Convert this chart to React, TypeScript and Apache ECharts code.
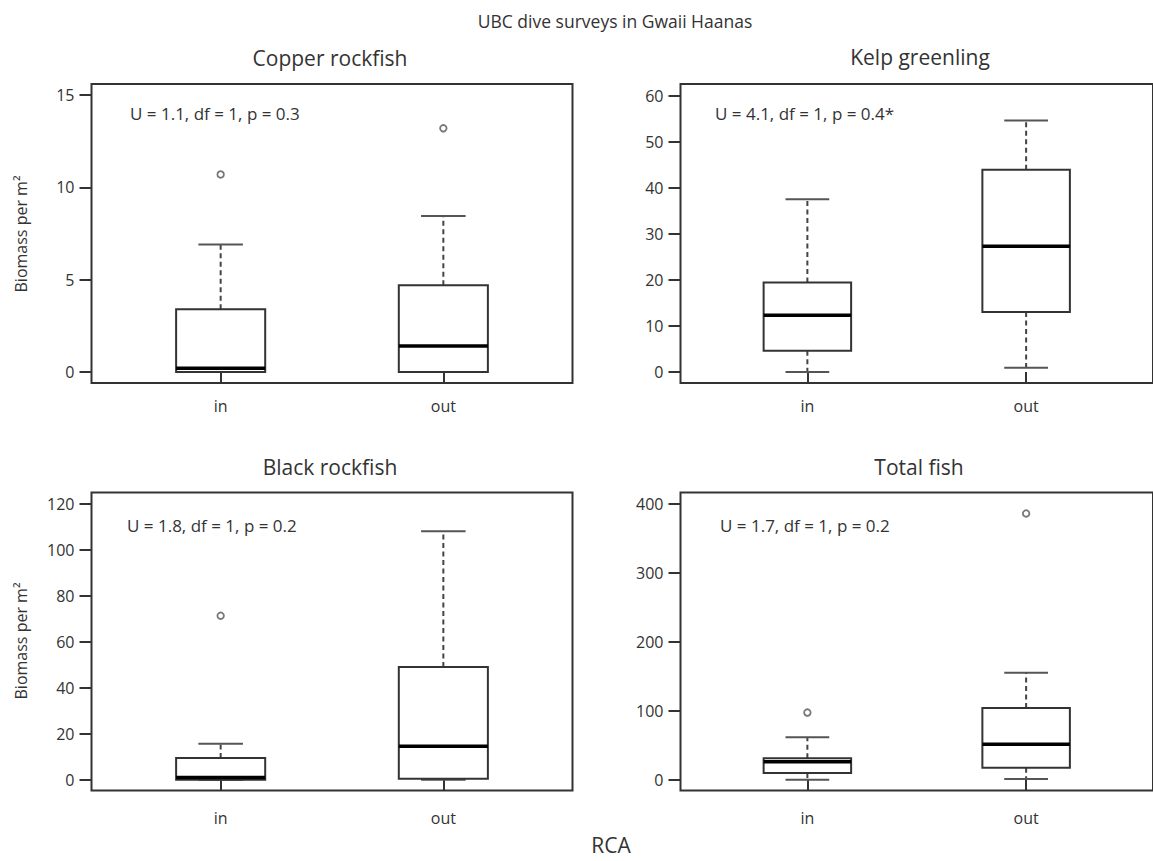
import React, { useEffect, useRef } from "react";
import * as echarts from "echarts";

// ---------- data ----------
const groups = ["in", "out"];
const groupPos = [1, 2];

const chartTitle = "UBC dive surveys in Gwaii Haanas";
const xAxisTitle = "RCA";
const yAxisTitle = "Biomass per m²";

const panelTitles = ["Copper rockfish", "Kelp greenling", "Black rockfish", "Total fish"];
const statTexts = [
  "U = 1.1, df = 1, p = 0.3",
  "U = 4.1, df = 1, p = 0.4*",
  "U = 1.8, df = 1, p = 0.2",
  "U = 1.7, df = 1, p = 0.2",
];

// [lower whisker, Q1, median, Q3, upper whisker] for "in", "out"
const copperBoxes = [
  [0, 0, 0.2, 3.4, 6.9],
  [0, 0, 1.4, 4.7, 8.45],
];
const kelpBoxes = [
  [0, 4.6, 12.3, 19.4, 37.5],
  [0.9, 13.0, 27.3, 43.9, 54.6],
];
const blackBoxes = [
  [0, 0, 1.0, 9.4, 15.6],
  [0, 0.4, 14.5, 49.0, 108.0],
];
const totalBoxes = [
  [0, 9.7, 26, 31.4, 61.8],
  [1, 17.4, 51.7, 103.9, 155],
];

// outliers: [group position, value]
const copperOutliers = [[1, 10.7], [2, 13.2]];
const kelpOutliers: number[][] = [];
const blackOutliers = [[1, 71.3]];
const totalOutliers = [[1, 97.5], [2, 386]];

const copperTicks = [0, 5, 10, 15];
const kelpTicks = [0, 10, 20, 30, 40, 50, 60];
const blackTicks = [0, 20, 40, 60, 80, 100, 120];
const totalTicks = [0, 100, 200, 300, 400];

const copperRange = [-0.6, 15.6];
const kelpRange = [-2.4, 62.5];
const blackRange = [-4.7, 124.9];
const totalRange = [-15.5, 416.4];

const xRange = [0.42, 2.58];

// ---------- layout ----------
const FONT = "'Open Sans', 'Noto Sans', sans-serif";
const TXT = "#333333";

const grids = [
  { left: 91.5, top: 84, width: 481, height: 299 },
  { left: 680.5, top: 84, width: 481, height: 299 },
  { left: 91.5, top: 492.5, width: 481, height: 298 },
  { left: 680.5, top: 492.5, width: 481, height: 298 },
];
const titlePos = [
  [330, 58],
  [920, 57],
  [330, 467],
  [919, 467],
];
const statPos = [
  [130, 113],
  [715, 113],
  [127, 525.5],
  [720, 525.5],
];
const xLabelMargin = [15, 15, 19, 19];

const panels = [
  { boxes: copperBoxes, outliers: copperOutliers, ticks: copperTicks, range: copperRange },
  { boxes: kelpBoxes, outliers: kelpOutliers, ticks: kelpTicks, range: kelpRange },
  { boxes: blackBoxes, outliers: blackOutliers, ticks: blackTicks, range: blackRange },
  { boxes: totalBoxes, outliers: totalOutliers, ticks: totalTicks, range: totalRange },
];

const BOX_HALF = 0.2;
const CAP_HALF = 0.1;

function renderBox(params: any, api: any) {
  const x = api.value(0);
  const low = api.value(1);
  const q1 = api.value(2);
  const med = api.value(3);
  const q3 = api.value(4);
  const high = api.value(5);
  const c = (xv: number, yv: number) => api.coord([xv, yv]);
  const [xc, yLow] = c(x, low);
  const [, yHigh] = c(x, high);
  const [xl, yQ1] = c(x - BOX_HALF, q1);
  const [xr, yQ3] = c(x + BOX_HALF, q3);
  const [, yMed] = c(x, med);
  const [cl] = c(x - CAP_HALF, 0);
  const [cr] = c(x + CAP_HALF, 0);
  const whiskerStyle = { stroke: "#444", lineWidth: 2, lineDash: [5, 3.5], fill: null };
  const capStyle = { stroke: "#555", lineWidth: 2, fill: null };
  const children: any[] = [];
  if (high > q3) {
    children.push({ type: "line", shape: { x1: xc, y1: yQ3, x2: xc, y2: yHigh }, style: whiskerStyle });
  }
  if (low < q1) {
    children.push({ type: "line", shape: { x1: xc, y1: yQ1, x2: xc, y2: yLow }, style: whiskerStyle });
  }
  children.push({ type: "line", shape: { x1: cl, y1: yHigh, x2: cr, y2: yHigh }, style: capStyle });
  children.push({ type: "line", shape: { x1: cl, y1: yLow, x2: cr, y2: yLow }, style: capStyle });
  children.push({
    type: "rect",
    shape: { x: xl, y: yQ3, width: xr - xl, height: yQ1 - yQ3 },
    style: { fill: "#fff", stroke: "#333", lineWidth: 2 },
  });
  children.push({
    type: "line",
    shape: { x1: xl, y1: yMed, x2: xr, y2: yMed },
    style: { stroke: "#000", lineWidth: 3.5, fill: null },
  });
  return { type: "group", children };
}

function buildOption() {
  const grid = grids.map((g) => ({
    ...g,
    show: true,
    borderColor: "#333",
    borderWidth: 2,
    backgroundColor: "transparent",
  }));

  const xAxis = panels.map((p, i) => ({
    type: "value",
    gridIndex: i,
    min: xRange[0],
    max: xRange[1],
    axisLine: { show: false },
    splitLine: { show: false },
    axisTick: {
      show: true,
      customValues: groupPos,
      length: 11,
      lineStyle: { color: "#333", width: 2 },
    },
    axisLabel: {
      show: true,
      customValues: groupPos,
      formatter: (v: number) => groups[Math.round(v) - 1] ?? "",
      margin: xLabelMargin[i],
      color: TXT,
      fontFamily: FONT,
      fontSize: 16,
    },
  }));

  const yAxis = panels.map((p, i) => ({
    type: "value",
    gridIndex: i,
    min: p.range[0],
    max: p.range[1],
    axisLine: { show: false },
    splitLine: { show: false },
    axisTick: {
      show: true,
      customValues: p.ticks,
      length: 12,
      lineStyle: { color: "#333", width: 2 },
    },
    axisLabel: {
      show: true,
      customValues: p.ticks,
      margin: 17,
      color: TXT,
      fontFamily: FONT,
      fontSize: 16,
    },
  }));

  const series: any[] = [];
  panels.forEach((p, i) => {
    series.push({
      type: "custom",
      xAxisIndex: i,
      yAxisIndex: i,
      renderItem: renderBox,
      encode: { x: 0, y: [1, 2, 3, 4, 5] },
      data: p.boxes.map((b, k) => [groupPos[k], ...b]),
      z: 2,
    });
    if (p.outliers.length) {
      series.push({
        type: "scatter",
        xAxisIndex: i,
        yAxisIndex: i,
        data: p.outliers,
        symbol: "circle",
        symbolSize: 6.5,
        itemStyle: { color: "#fff", borderColor: "#555", borderWidth: 1.8 },
        z: 3,
      });
    }
  });

  const txt = (x: number, y: number, text: string, size: number, align = "center", extra: any = {}) => ({
    type: "text",
    x,
    y,
    ...extra,
    style: {
      text,
      fill: TXT,
      font: `${size}px ${FONT}`,
      textAlign: align,
      textVerticalAlign: "middle",
    },
  });

  const graphic: any[] = [txt(615, 21, chartTitle, 17.5)];
  panelTitles.forEach((t, i) => graphic.push(txt(titlePos[i][0], titlePos[i][1], t, 21)));
  statTexts.forEach((t, i) => graphic.push(txt(statPos[i][0], statPos[i][1], t, 17, "left")));
  graphic.push(txt(20.5, 234, yAxisTitle, 16, "center", { rotation: Math.PI / 2 }));
  graphic.push(txt(20.5, 641, yAxisTitle, 16, "center", { rotation: Math.PI / 2 }));
  graphic.push(txt(611, 845, xAxisTitle, 21));

  return {
    animation: false,
    backgroundColor: "#fff",
    grid,
    xAxis,
    yAxis,
    series,
    graphic,
  };
}

export default function App() {
  const ref = useRef<HTMLDivElement>(null);
  useEffect(() => {
    if (!ref.current) return;
    const chart = echarts.init(ref.current, undefined, { renderer: "svg" });
    chart.setOption(buildOption() as any);
    return () => chart.dispose();
  }, []);
  return (
    <div
      ref={ref}
      style={{ position: "absolute", left: 0, top: 0, width: 1153, height: 861, background: "#fff" }}
    />
  );
}
